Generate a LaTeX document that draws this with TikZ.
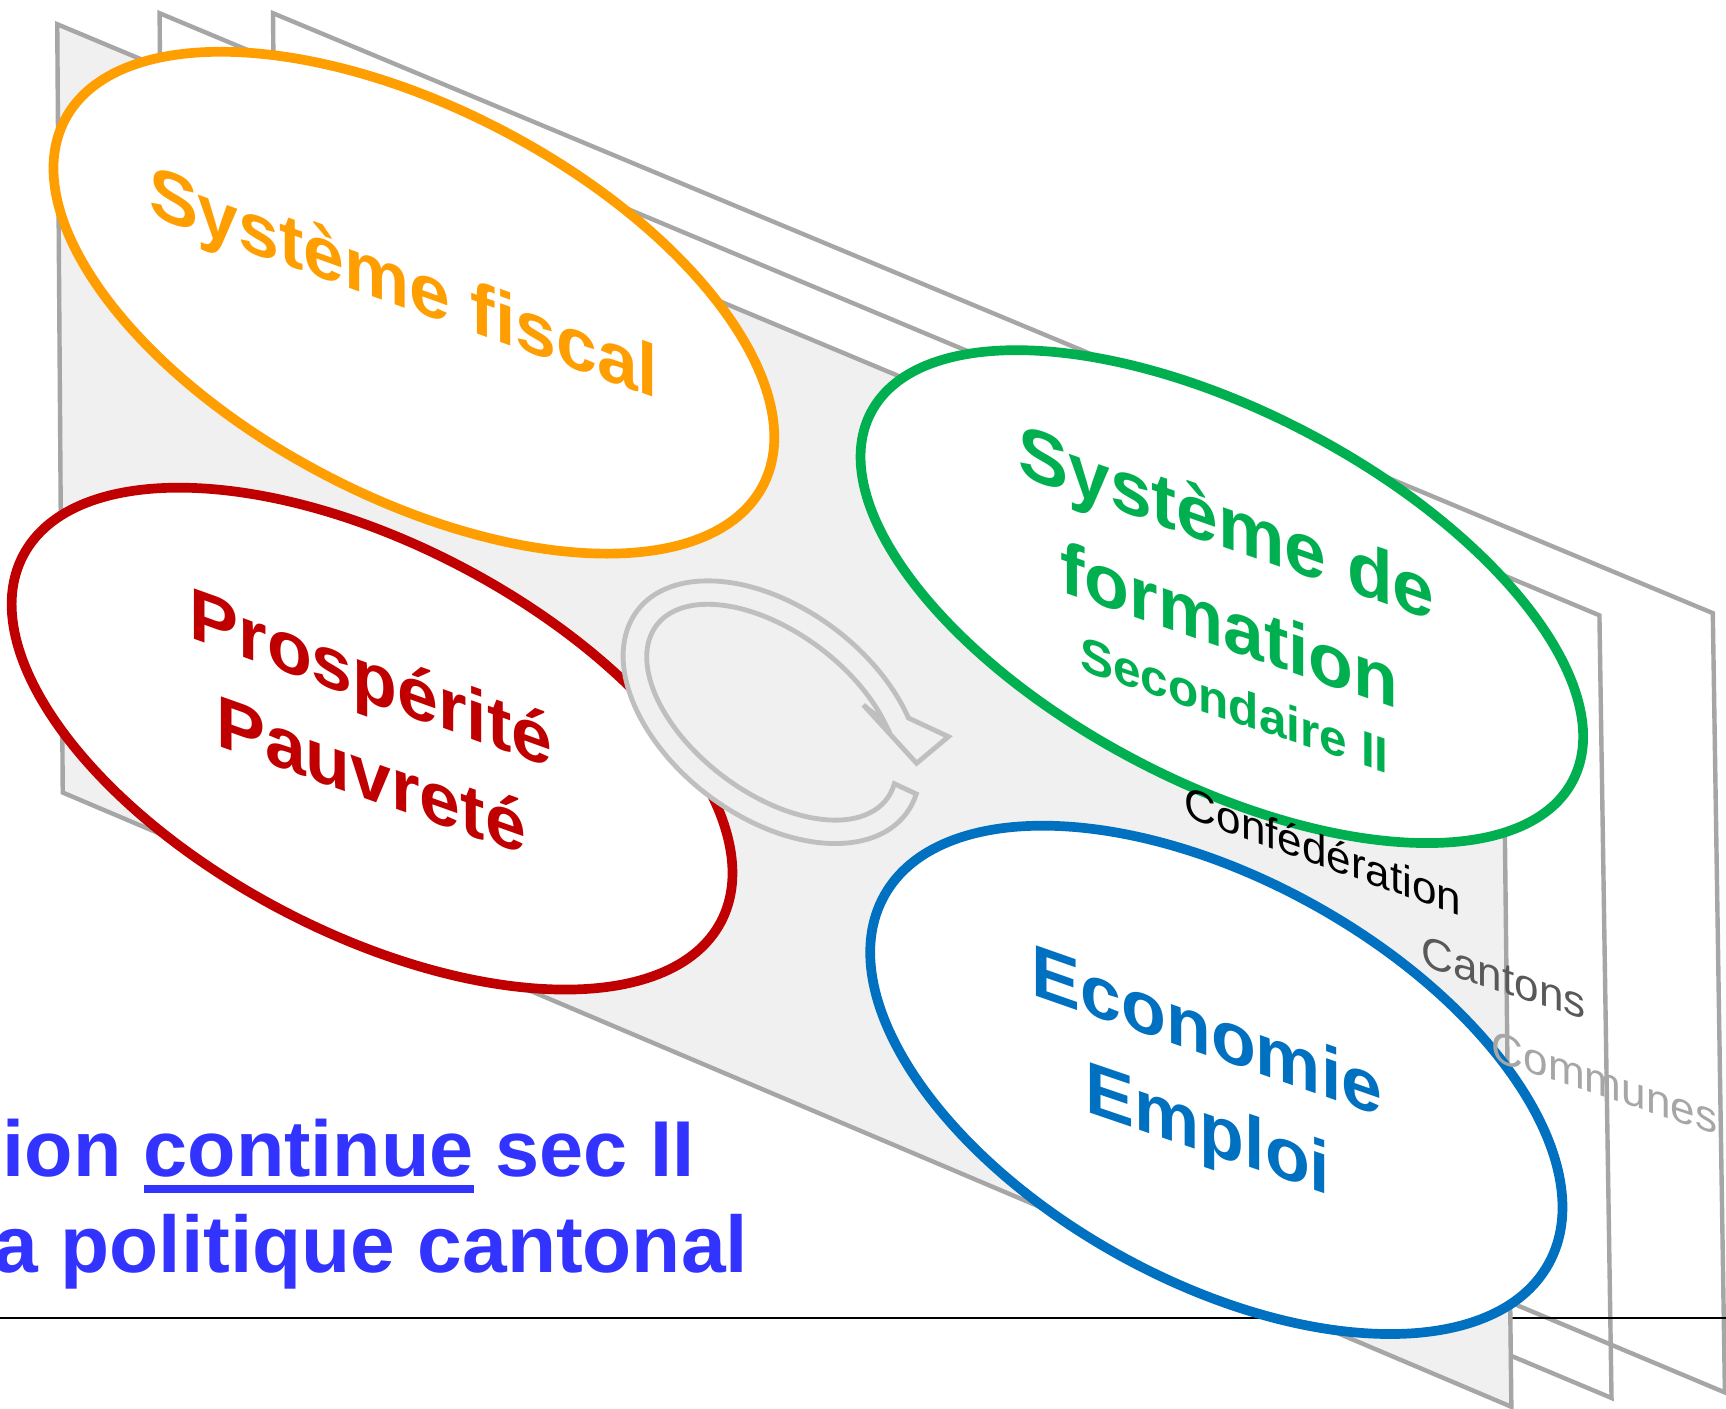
\documentclass[tikz,border=0pt]{standalone}
\usepackage{fontspec}
\setmainfont{Liberation Sans}
\usetikzlibrary{shapes.geometric}
\definecolor{cOrange}{HTML}{FF9E00}
\definecolor{cRed}{HTML}{C00000}
\definecolor{cGreen}{HTML}{00B050}
\definecolor{cBlue}{HTML}{0070C0}
\definecolor{cSlide}{HTML}{3333FF}
\definecolor{planeGray}{HTML}{A6A6A6}
\definecolor{planeFill}{HTML}{F0F0F0}
\definecolor{arrowGray}{HTML}{BFBFBF}
\definecolor{cantGray}{HTML}{595959}
\newcommand\myul[1]{\setbox0\hbox{#1}\rlap{\rule[-0.21em]{\wd0}{0.11em}}\box0\relax}
\begin{document}
\begin{tikzpicture}[x=0.5pt,y=-0.5pt,
  plane/.style={draw=planeGray, line width=2pt, line join=miter},
  bubble/.style={ellipse, draw, fill=white, line width=4.4pt, minimum width=358pt, minimum height=176pt, inner sep=0pt},
  bigtxt/.style={inner sep=0pt, anchor=base west, font=\bfseries\fontsize{33.3}{33.3}\selectfont},
  smalltxt/.style={inner sep=0pt, anchor=base west, font=\bfseries\fontsize{22.5}{22.5}\selectfont},
  leveltxt/.style={inner sep=0pt, anchor=base west, font=\fontsize{20}{20}\selectfont},
  slidetxt/.style={inner sep=0pt, anchor=base east, text=cSlide, font=\bfseries\fontsize{36.5}{36.5}\selectfont},
  ringarrow/.style={draw=arrowGray, fill=planeFill, line width=2.2pt, line join=miter}]
\useasboundingbox (0,0) rectangle (1568,1280);
\fill[white] (0,0) rectangle (1568,1280);
% back planes
\draw[plane] (248,12) -- (1556,557) -- (1567,1265) -- (255,714) -- cycle;
\draw[plane] (145,12) -- (1453,559) -- (1464,1270) -- (150,718) -- cycle;
% slide rule line
\draw[line width=1pt] (0,1197) coordinate (hl0) -- (1568,1197) coordinate (hl1);
% front plane
\draw[plane, fill=planeFill] (52,22) -- (1365,571) -- (1373,1278) -- (57,720) -- cycle;
% ellipses
\node[bubble, draw=cOrange, rotate=-27.7] (eOrange) at (376,275) {};
\node[bubble, draw=cRed, rotate=-27.7] (eRed) at (338,671) {};
% circular arrow
\begin{scope}[shift={(701,647)}, rotate=-37]
\draw[ringarrow] (-12:153 and 95) arc[start angle=-12, end angle=312, x radius=153, y radius=95]
  -- (141.6,-78.9) -- (133.1,-42.2) -- (62.6,-55.4)
  -- (312:131 and 73) arc[start angle=312, end angle=-12, x radius=131, y radius=73] -- cycle;
\end{scope}
\node[bubble, draw=cGreen, minimum width=360pt, minimum height=168pt, rotate=-27.7] (eGreen) at (1110,542) {};
\node[bubble, draw=cBlue, minimum width=345pt, minimum height=182pt, rotate=-29] (eBlue) at (1105,981) {};
% texts
\node[bigtxt, text=cOrange, yslant=-0.36] (tFisc) at (135,196) {Système fiscal};
\node[bigtxt, text=cRed, yslant=-0.36] (tPros) at (172,579) {Prospérité};
\node[bigtxt, text=cRed, yslant=-0.355] (tPauv) at (196,677) {Pauvreté};
\node[bigtxt, text=cGreen, yslant=-0.35, font=\bfseries\fontsize{34}{34}\selectfont] (tSys) at (925,432) {Système de};
\node[bigtxt, text=cGreen, yslant=-0.35] (tForm) at (963,537) {formation};
\node[smalltxt, text=cGreen, yslant=-0.335] (tSec) at (981,609) {Secondaire II};
\node[bigtxt, text=cBlue, yslant=-0.35] (tEco) at (937,903) {Economie};
\node[bigtxt, text=cBlue, yslant=-0.34] (tEmp) at (986,1010) {Emploi};
\node[leveltxt, text=black, yslant=-0.36] (tConf) at (1076,742) {Confédération};
\node[leveltxt, text=cantGray, yslant=-0.33] (tCant) at (1291,877) {Cantons};
\node[leveltxt, text=planeGray, yslant=-0.33] (tComm) at (1355,963) {Communes};
% slide text
\node[slidetxt, font=\bfseries\fontsize{36}{36}\selectfont] (s1) at (631,1069) {ion \myul{continue} sec II};
\node[slidetxt] (s2) at (680,1156) {a politique cantonal};
\end{tikzpicture}
\end{document}
